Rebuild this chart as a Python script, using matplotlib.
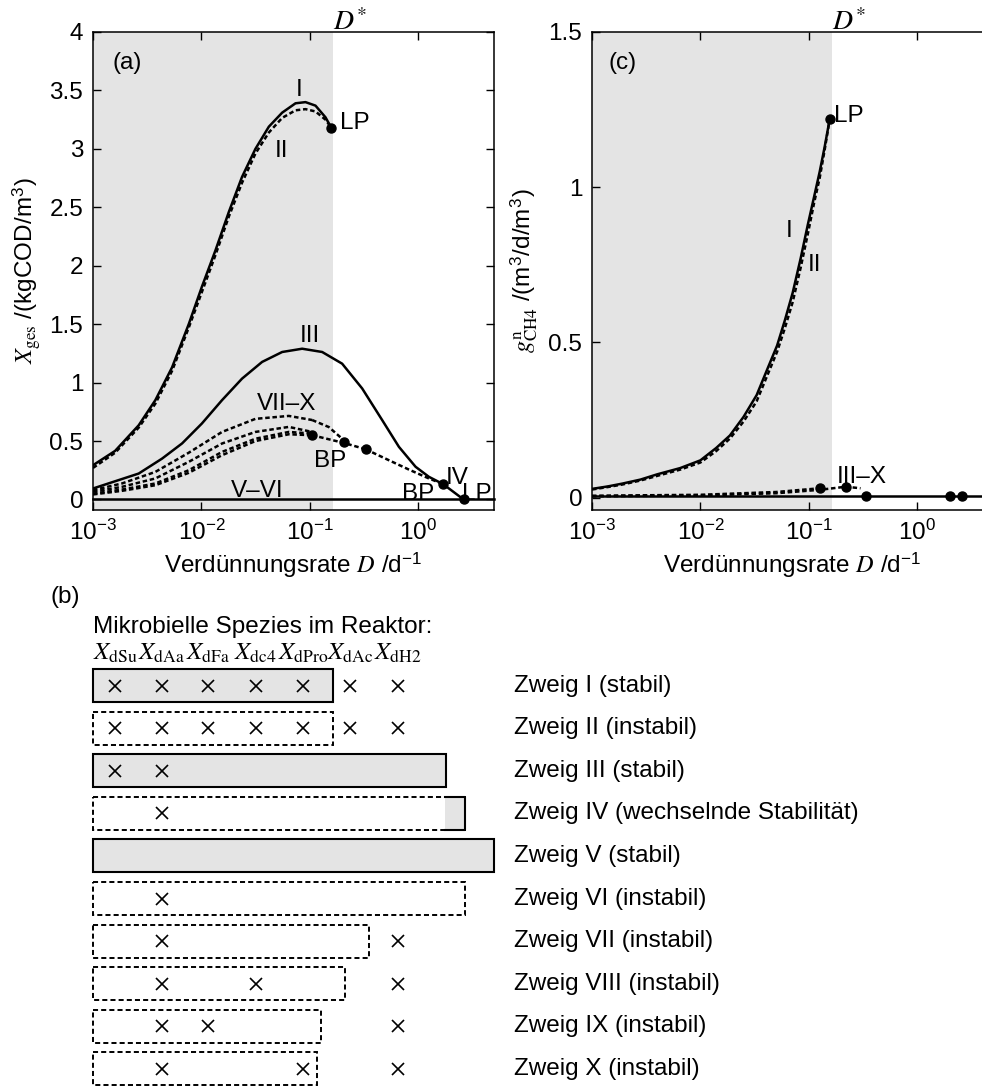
import matplotlib
matplotlib.use("Agg")
import matplotlib.pyplot as plt
import matplotlib.transforms as mtransforms
from matplotlib.patches import Rectangle
from matplotlib.ticker import LogLocator, NullLocator, FormatStrFormatter

plt.rcParams['font.family'] = ['Liberation Sans', 'DejaVu Sans']
plt.rcParams['mathtext.fontset'] = 'stix'
plt.rcParams['axes.unicode_minus'] = False

FS = 17.5
GRAY = '#e4e4e4'
DASH = (0, (1.8, 1.1))

# ---- data: panel (a), total biomass X_ges over dilution rate D ----
D_STAR = 0.163

D_I = [0.001, 0.0016, 0.00264, 0.00376, 0.00536, 0.00764, 0.0101, 0.01346, 0.0179,
       0.0237, 0.0315, 0.0419, 0.0556, 0.0738, 0.0912, 0.1128, 0.1395, 0.158]
X_I = [0.293, 0.416, 0.635, 0.85, 1.13, 1.50, 1.82, 2.13, 2.46,
       2.76, 3.00, 3.19, 3.31, 3.39, 3.40, 3.37, 3.27, 3.18]
X_II = [0.27, 0.40, 0.615, 0.82, 1.10, 1.47, 1.775, 2.09, 2.42,
        2.71, 2.96, 3.14, 3.265, 3.33, 3.34, 3.32, 3.25, 3.18]
D_III = [0.001, 0.00264, 0.00434, 0.00664, 0.0101, 0.0155, 0.0237, 0.0363, 0.0556,
         0.085, 0.130, 0.1987, 0.304, 0.466, 0.664, 0.945, 1.254, 1.70]
X_III = [0.094, 0.222, 0.35, 0.48, 0.65, 0.85, 1.034, 1.177, 1.262,
         1.29, 1.262, 1.162, 0.95, 0.678, 0.45, 0.28, 0.194, 0.131]
D_IV_stab = [1.70, 2.62]
X_IV_stab = [0.131, 0.0]
D_IV_inst = [0.327, 0.536, 0.82, 1.254, 1.70]
X_IV_inst = [0.43, 0.336, 0.256, 0.18, 0.131]
D_dash = [0.001, 0.00185, 0.00376, 0.00764, 0.0155, 0.0315, 0.064, 0.105]
X_VIII = [0.08, 0.137, 0.236, 0.40, 0.578, 0.69, 0.715, 0.68]
X_X = [0.066, 0.108, 0.18, 0.322, 0.479, 0.578, 0.621, 0.578]
X_IX = [0.05, 0.085, 0.137, 0.25, 0.407, 0.52, 0.578, 0.564]
X_VII = [0.043, 0.074, 0.122, 0.228, 0.379, 0.50, 0.558, 0.55]
D_VIII_tail = [0.105, 0.1496, 0.206]
X_VIII_tail = [0.68, 0.62, 0.507]
D_VII_tail = [0.105, 0.206, 0.327]
X_VII_tail = [0.55, 0.484, 0.43]
D_V = [0.001, 5.0]
X_V = [0.0, 0.0]
D_pts_a = [0.158, 0.105, 0.206, 0.327, 1.70, 2.62]
X_pts_a = [3.18, 0.556, 0.49, 0.43, 0.131, 0.0]

# ---- data: panel (c), methane production ----
D_gI = [0.001, 0.0014, 0.0019, 0.0028, 0.004, 0.0065, 0.01, 0.014, 0.0187, 0.025,
        0.033, 0.041, 0.051, 0.06, 0.071, 0.084, 0.098, 0.112, 0.126, 0.14, 0.156]
g_I = [0.028, 0.036, 0.045, 0.058, 0.075, 0.095, 0.12, 0.16, 0.20, 0.26,
       0.33, 0.41, 0.49, 0.57, 0.66, 0.77, 0.88, 0.97, 1.05, 1.13, 1.22]
g_II = [0.026, 0.034, 0.042, 0.055, 0.070, 0.090, 0.113, 0.15, 0.19, 0.245,
        0.31, 0.39, 0.47, 0.545, 0.63, 0.74, 0.85, 0.95, 1.03, 1.12, 1.22]
D_gIIIa = [0.001, 0.01, 0.05, 0.126]
g_IIIa = [0.006, 0.009, 0.018, 0.03]
D_gIIIb = [0.001, 0.01, 0.05, 0.126, 0.22, 0.3]
g_IIIb = [0.004, 0.007, 0.014, 0.025, 0.035, 0.03]
D_g0 = [0.001, 5.0]
g_0 = [0.004, 0.004]
D_pts_c = [0.156, 0.126, 0.22, 0.34, 2.0, 2.6]
g_pts_c = [1.22, 0.03, 0.035, 0.004, 0.004, 0.004]

# ---- data: panel (b), species present per branch ----
branches = ['I', 'II', 'III', 'IV', 'V', 'VI', 'VII', 'VIII', 'IX', 'X']
stability = ['stabil', 'instabil', 'stabil', 'wechselnde Stabilität', 'stabil',
             'instabil', 'instabil', 'instabil', 'instabil', 'instabil']
branch_end = [0.164, 0.164, 1.8, 2.68, 5.0, 2.68, 0.35, 0.21, 0.127, 0.117]
branch_stable = [True, False, True, False, True, False, False, False, False, False]
IV_stable_from = 1.78
species = ['dSu', 'dAa', 'dFa', 'dc4', 'dPro', 'dAc', 'dH2']
present = [
    [0, 1, 2, 3, 4, 5, 6],
    [0, 1, 2, 3, 4, 5, 6],
    [0, 1],
    [1],
    [],
    [1],
    [1, 6],
    [1, 3, 6],
    [1, 2, 6],
    [1, 4, 6],
]

W, H = 982, 1086
fig = plt.figure(figsize=(W / 100, H / 100), dpi=100)


def px_axes(left, top, right, bottom):
    return fig.add_axes([left / W, 1 - bottom / H, (right - left) / W, (bottom - top) / H])


def style_axes(ax, yticks):
    ax.set_xscale('log')
    ax.set_xlim(1e-3, 5)
    ax.xaxis.set_major_locator(LogLocator(base=10, numticks=10))
    ax.xaxis.set_minor_locator(NullLocator())
    ax.set_yticks(yticks)
    ax.yaxis.set_major_formatter(FormatStrFormatter('%g'))
    ax.tick_params(direction='in', top=True, right=True, length=6, width=1.0,
                   labelsize=FS, pad=7)
    for sp in ax.spines.values():
        sp.set_linewidth(1.1)
    ax.axvspan(1e-3, D_STAR, color=GRAY, zorder=0, lw=0)
    ax.text(D_STAR, 0.992, r'$D^{*}$', fontsize=20,
            transform=mtransforms.blended_transform_factory(ax.transData, ax.transAxes),
            ha='left', va='bottom')
    ax.set_xlabel(r'Verdünnungsrate $D$ /d$^{\mathdefault{-1}}$', fontsize=FS, labelpad=4)


LW = 1.8

# ---------------- panel (a) ----------------
axa = px_axes(93, 32, 494, 510)
style_axes(axa, [0, 0.5, 1, 1.5, 2, 2.5, 3, 3.5, 4])
axa.set_ylim(-0.09, 4)
axa.plot(D_I, X_I, color='k', lw=LW)
axa.plot(D_I, X_II, color='k', lw=LW, ls=DASH)
axa.plot(D_III, X_III, color='k', lw=LW)
axa.plot(D_IV_stab, X_IV_stab, color='k', lw=LW)
axa.plot(D_IV_inst, X_IV_inst, color='k', lw=LW, ls=DASH)
for x in (X_VII, X_VIII, X_IX, X_X):
    axa.plot(D_dash, x, color='k', lw=LW, ls=DASH)
axa.plot(D_VIII_tail, X_VIII_tail, color='k', lw=LW, ls=DASH)
axa.plot(D_VII_tail, X_VII_tail, color='k', lw=LW, ls=DASH)
axa.plot(D_V, X_V, color='k', lw=LW, clip_on=False)
axa.plot(D_pts_a, X_pts_a, 'o', color='k', ms=6.5, clip_on=False)
axa.set_ylabel(r'$X_{\rm ges}$ /(kgCOD/m$^{\mathdefault{3}}$)', fontsize=FS)
axa.yaxis.set_label_coords(-0.125, 0.5)
axa.text(0.085, 0.935, '(a)', transform=axa.transAxes, ha='center', va='center', fontsize=FS)
for txt, d, y, ha in [('I', 0.08, 3.50, 'center'), ('II', 0.0545, 2.98, 'center'),
                      ('LP', 0.19, 3.22, 'left'), ('III', 0.1, 1.40, 'center'),
                      ('VII–X', 0.0615, 0.82, 'center'), ('BP', 0.154, 0.33, 'center'),
                      ('V–VI', 0.0327, 0.07, 'center'), ('BP', 1.0, 0.05, 'center'),
                      ('IV', 2.3, 0.18, 'center'), ('LP', 3.5, 0.05, 'center')]:
    axa.text(d, y, txt, ha=ha, va='center', fontsize=FS)

# ---------------- panel (c) ----------------
axc = px_axes(592, 32, 993, 510)
style_axes(axc, [0, 0.5, 1, 1.5])
axc.set_ylim(-0.04, 1.5)
axc.plot(D_gI, g_I, color='k', lw=LW)
axc.plot(D_gI, g_II, color='k', lw=LW, ls=DASH)
axc.plot(D_gIIIa, g_IIIa, color='k', lw=LW, ls=DASH)
axc.plot(D_gIIIb, g_IIIb, color='k', lw=LW, ls=DASH)
axc.plot(D_g0, g_0, color='k', lw=LW)
axc.plot(D_pts_c, g_pts_c, 'o', color='k', ms=6.5, clip_on=False)
axc.set_ylabel(r'$g^{\rm n}_{\rm CH4}$ /(m$^{\mathdefault{3}}$/d/m$^{\mathdefault{3}}$)', fontsize=FS)
axc.yaxis.set_label_coords(-0.13, 0.5)
axc.text(0.077, 0.935, '(c)', transform=axc.transAxes, ha='center', va='center', fontsize=FS)
for txt, d, y, ha in [('I', 0.0655, 0.86, 'center'), ('II', 0.1135, 0.75, 'center'),
                      ('LP', 0.172, 1.23, 'left'), ('III–X', 0.31, 0.065, 'center')]:
    axc.text(d, y, txt, ha=ha, va='center', fontsize=FS)

# ---------------- panel (b) ----------------
axb = px_axes(93, 640, 494, 1086)
axb.set_xscale('log')
axb.set_xlim(1e-3, 5)
axb.set_ylim(9.40, -1.068)
axb.axis('off')
blend = mtransforms.blended_transform_factory(axb.transAxes, axb.transData)
col_x = [0.055, 0.172, 0.287, 0.406, 0.524, 0.641, 0.761]
bar_h = 0.775
box_dash = (0, (2.6, 1.6))

for i, name in enumerate(branches):
    y0 = i - bar_h / 2
    end = branch_end[i]
    if branch_stable[i]:
        axb.add_patch(Rectangle((1e-3, y0), end - 1e-3, bar_h, facecolor=GRAY,
                                edgecolor='k', lw=1.5, clip_on=False))
    else:
        axb.add_patch(Rectangle((1e-3, y0), end - 1e-3, bar_h, facecolor='white',
                                edgecolor='k', lw=1.4, ls=box_dash, clip_on=False))
        if name == 'IV':
            axb.add_patch(Rectangle((IV_stable_from, y0), end - IV_stable_from, bar_h,
                                    facecolor=GRAY, edgecolor='none', clip_on=False))
            axb.plot([IV_stable_from, end, end, IV_stable_from],
                     [y0, y0, y0 + bar_h, y0 + bar_h], color='k', lw=1.5, clip_on=False)
    for c in present[i]:
        axb.plot(col_x[c], i, 'x', color='k', ms=8, mew=1.2, transform=blend, clip_on=False)
    axb.text(1.05, i, f'Zweig {name} ({stability[i]})', transform=blend,
             ha='left', va='center', fontsize=FS)

for c, sp in enumerate(species):
    axb.text(col_x[c], -0.60, r'$X_{\rm %s}$' % sp, transform=blend,
             ha='center', va='baseline', fontsize=18)
axb.text(0.0, -1.23, 'Mikrobielle Spezies im Reaktor:', transform=blend,
         ha='left', va='baseline', fontsize=FS)
axb.text(-0.107, -2.08, '(b)', transform=blend, ha='left', va='center', fontsize=FS)

fig.savefig('out.png', dpi=100)
